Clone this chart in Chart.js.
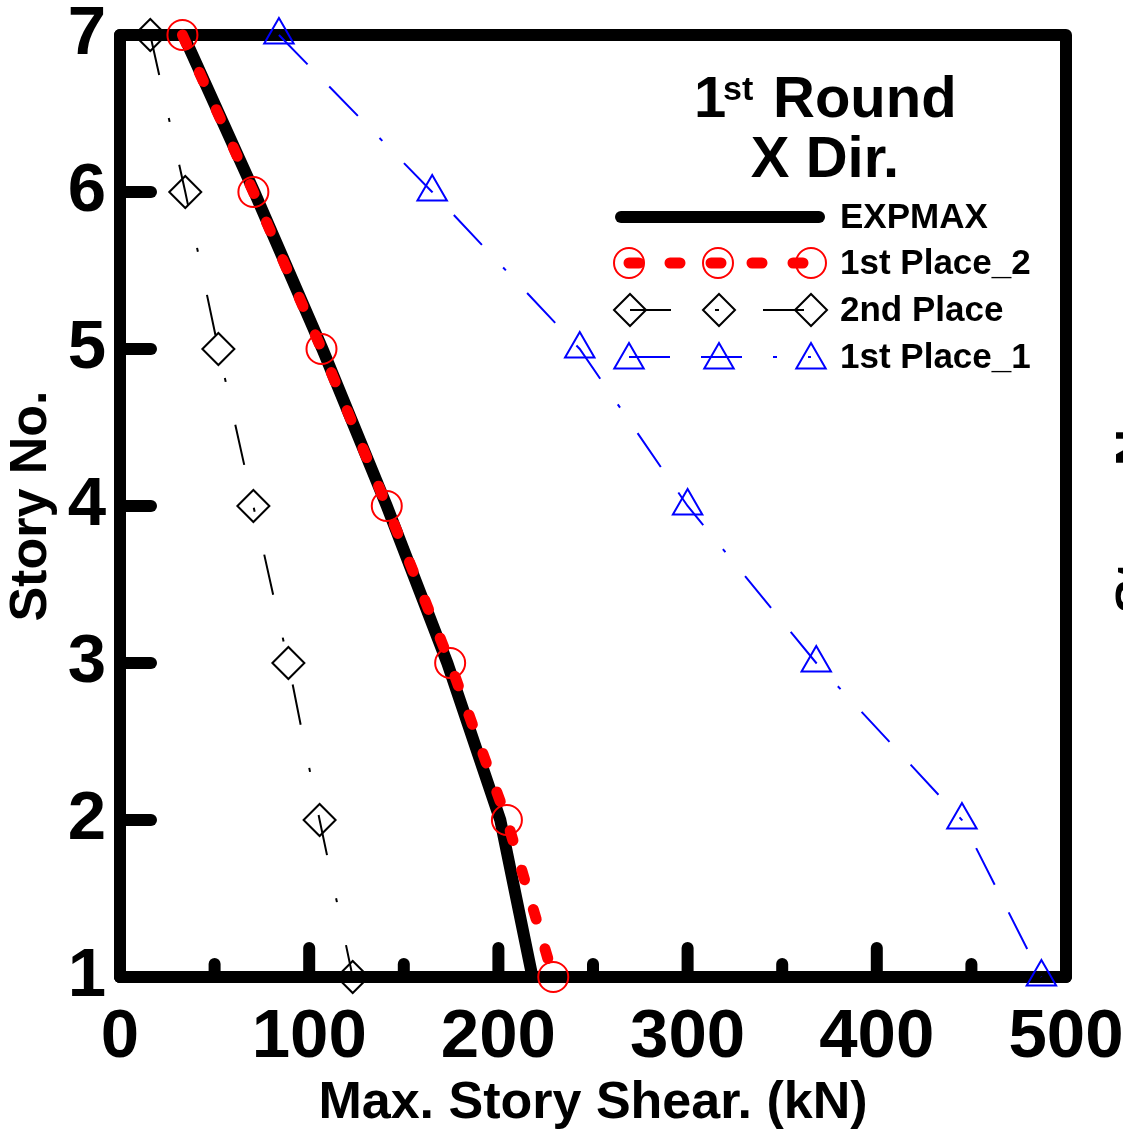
<!DOCTYPE html>
<html>
<head>
<meta charset="utf-8">
<script src="https://cdn.jsdelivr.net/npm/chart.js@4.4.1/dist/chart.umd.min.js"></script>
<style>
html,body{margin:0;padding:0;background:#fff;overflow:hidden;}
canvas{display:block;}
</style>
</head>
<body>
<canvas id="c" width="1123" height="1132"></canvas>
<script>
// ---- data ----
const stories = [7, 6, 5, 4, 3, 2, 1];
const expmax = [33.5, 71, 107, 141, 173, 201, 218];
const firstPlace2 = [33, 70.5, 106.5, 141, 174.5, 204.5, 229];
const secondPlace = [16, 34.5, 52, 70.5, 89, 105.5, 123];
const firstPlace1 = [84, 165, 243, 300, 368, 445, 487];
const xTicks = [0, 100, 200, 300, 400, 500];
const yTicks = [1, 2, 3, 4, 5, 6, 7];
const seriesNames = ['EXPMAX', '1st Place_2', '2nd Place', '1st Place_1'];
const xTitle = 'Max. Story Shear. (kN)';
const yTitle = 'Story No.';

const FONT = '"Liberation Sans", Arial, Helvetica, sans-serif';

function pts(vals) { return stories.map((s, i) => ({x: vals[i], y: s})); }

const datasets = [
  {label: seriesNames[0], data: pts(expmax), order: 3,
   borderColor: '#000', borderWidth: 12, borderCapStyle: 'round', borderJoinStyle: 'round',
   pointRadius: 0, pointHoverRadius: 0, showLine: true, clip: false},
  {label: seriesNames[1], data: pts(firstPlace2), order: 0,
   borderColor: '#ff0000', borderWidth: 11, borderDash: [10, 31], borderCapStyle: 'round', borderJoinStyle: 'round',
   pointStyle: 'circle', pointRadius: 15, pointBorderWidth: 2, pointBorderColor: '#ff0000',
   pointBackgroundColor: 'rgba(0,0,0,0)', showLine: true, clip: false},
  {label: seriesNames[2], data: pts(secondPlace), order: 1,
   borderColor: '#000', borderWidth: 2, borderDash: [41, 44, 4, 44],
   pointStyle: 'rectRot', pointRadius: 16, pointBorderWidth: 2, pointBorderColor: '#000',
   pointBackgroundColor: 'rgba(0,0,0,0)', showLine: true, clip: false},
  {label: seriesNames[3], data: pts(firstPlace1), order: 2,
   borderColor: '#0000ff', borderWidth: 2, borderDash: [41, 31, 41, 31, 4, 31],
   pointStyle: 'triangle', pointRadius: 17, pointBorderWidth: 2, pointBorderColor: '#0000ff',
   pointBackgroundColor: 'rgba(0,0,0,0)', showLine: true, clip: false}
];

function drawMarker(ctx, style, x, y, r) {
  ctx.beginPath();
  if (style === 'circle') {
    ctx.arc(x, y, r, 0, Math.PI * 2);
  } else if (style === 'rectRot') {
    ctx.moveTo(x - r, y); ctx.lineTo(x, y - r); ctx.lineTo(x + r, y); ctx.lineTo(x, y + r); ctx.closePath();
  } else if (style === 'triangle') {
    let a = 0;
    ctx.moveTo(x + Math.sin(a) * r, y - Math.cos(a) * r);
    a += 2 * Math.PI / 3;
    ctx.lineTo(x + Math.sin(a) * r, y - Math.cos(a) * r);
    a += 2 * Math.PI / 3;
    ctx.lineTo(x + Math.sin(a) * r, y - Math.cos(a) * r);
    ctx.closePath();
  }
  ctx.stroke();
}

const framePlugin = {
  id: 'framePlugin',
  beforeDatasetsDraw(chart) {
    const {ctx, chartArea: a, scales: {x, y}} = chart;
    ctx.save();
    ctx.strokeStyle = '#000';
    ctx.lineCap = 'round';
    ctx.lineWidth = 12;
    const seg = (x1, y1, x2, y2) => { ctx.beginPath(); ctx.moveTo(x1, y1); ctx.lineTo(x2, y2); ctx.stroke(); };
    yTicks.forEach(v => { const py = y.getPixelForValue(v); seg(a.left, py, a.left + 31, py); });
    xTicks.forEach((v, i) => {
      const px = x.getPixelForValue(v);
      seg(px, a.bottom, px, a.bottom - 29);
      if (i < xTicks.length - 1) {
        const pm = x.getPixelForValue((v + xTicks[i + 1]) / 2);
        seg(pm, a.bottom, pm, a.bottom - 13);
      }
    });
    ctx.lineJoin = 'round';
    ctx.strokeRect(a.left, a.top, a.right - a.left, a.bottom - a.top);
    ctx.restore();
  }
};

const annotPlugin = {
  id: 'annotPlugin',
  afterDatasetsDraw(chart) {
    const ctx = chart.ctx;
    ctx.save();
    ctx.fillStyle = '#000';
    // Title block
    ctx.textBaseline = 'alphabetic';
    ctx.textAlign = 'left';
    ctx.font = 'bold 58px ' + FONT;
    ctx.fillText('1', 694, 117);
    ctx.font = 'bold 34px ' + FONT;
    ctx.fillText('st', 723, 100);
    ctx.font = 'bold 58px ' + FONT;
    ctx.fillText('Round', 773, 117);
    ctx.textAlign = 'center';
    ctx.font = 'bold 58px ' + FONT;
    ctx.fillText('X Dir.', 825, 177);

    // Legend
    const rows = [217, 263, 310, 357];
    const mk = [[629, 718, 811], [630, 719, 811], [629, 719, 811]];
    ctx.textAlign = 'left';
    ctx.textBaseline = 'middle';
    chart.data.datasets.forEach((ds, i) => {
      const yy = rows[i];
      ctx.save();
      ctx.strokeStyle = ds.borderColor;
      ctx.lineWidth = ds.borderWidth;
      ctx.lineCap = ds.borderCapStyle || 'butt';
      ctx.setLineDash(ds.borderDash || []);
      ctx.beginPath();
      if (i === 0) { ctx.moveTo(621, yy); ctx.lineTo(819, yy); }
      else { ctx.moveTo(mk[i - 1][0], yy); ctx.lineTo(mk[i - 1][2], yy); }
      ctx.stroke();
      ctx.restore();
      if (i > 0) {
        ctx.save();
        ctx.strokeStyle = ds.pointBorderColor;
        ctx.lineWidth = ds.pointBorderWidth;
        ctx.setLineDash([]);
        mk[i - 1].forEach(px => drawMarker(ctx, ds.pointStyle, px, i === 3 ? yy + 3 : yy, ds.pointRadius));
        ctx.restore();
      }
      ctx.fillStyle = '#000';
      ctx.font = 'bold 35px ' + FONT;
      ctx.fillText(ds.label, 840, yy + 1);
    });

    // neighbouring panel's axis title (clipped at right edge)
    ctx.save();
    ctx.translate(1138, 498);
    ctx.rotate(-Math.PI / 2);
    ctx.textAlign = 'center';
    ctx.textBaseline = 'middle';
    ctx.font = 'bold 52px ' + FONT;
    ctx.fillText(yTitle, 0, 0);
    ctx.restore();
    ctx.restore();
  }
};

new Chart(document.getElementById('c'), {
  type: 'scatter',
  data: {datasets},
  options: {
    responsive: false,
    animation: false,
    events: [],
    layout: {padding: {top: 35, right: 57, bottom: 0, left: 0}},
    plugins: {legend: {display: false}, tooltip: {enabled: false}},
    scales: {
      x: {
        type: 'linear', position: 'bottom', min: 0, max: 500,
        afterBuildTicks(s) { s.ticks = xTicks.map(v => ({value: v})); },
        ticks: {color: '#000', font: {family: FONT, size: 69, weight: 'bold'}, padding: 20, maxRotation: 0, autoSkip: false},
        grid: {display: false, drawTicks: false},
        border: {display: false},
        title: {display: true, text: xTitle, color: '#000', font: {family: FONT, size: 52, weight: 'bold', lineHeight: 1.1}, padding: {top: 0, bottom: 0}},
        afterFit(s) { s.height = 155; s.paddingLeft = 0; s.paddingRight = 0; }
      },
      y: {
        type: 'linear', position: 'left', min: 1, max: 7,
        afterBuildTicks(s) { s.ticks = yTicks.map(v => ({value: v})); },
        ticks: {color: '#000', font: {family: FONT, size: 69, weight: 'bold'}, padding: 14, autoSkip: false},
        grid: {display: false, drawTicks: false},
        border: {display: false},
        title: {display: true, text: yTitle, color: '#000', font: {family: FONT, size: 52, weight: 'bold'}, padding: {top: 0, bottom: 0}},
        afterFit(s) { s.width = 120; s.paddingTop = 0; s.paddingBottom = 0; }
      }
    }
  },
  plugins: [framePlugin, annotPlugin]
});
</script>
</body>
</html>
